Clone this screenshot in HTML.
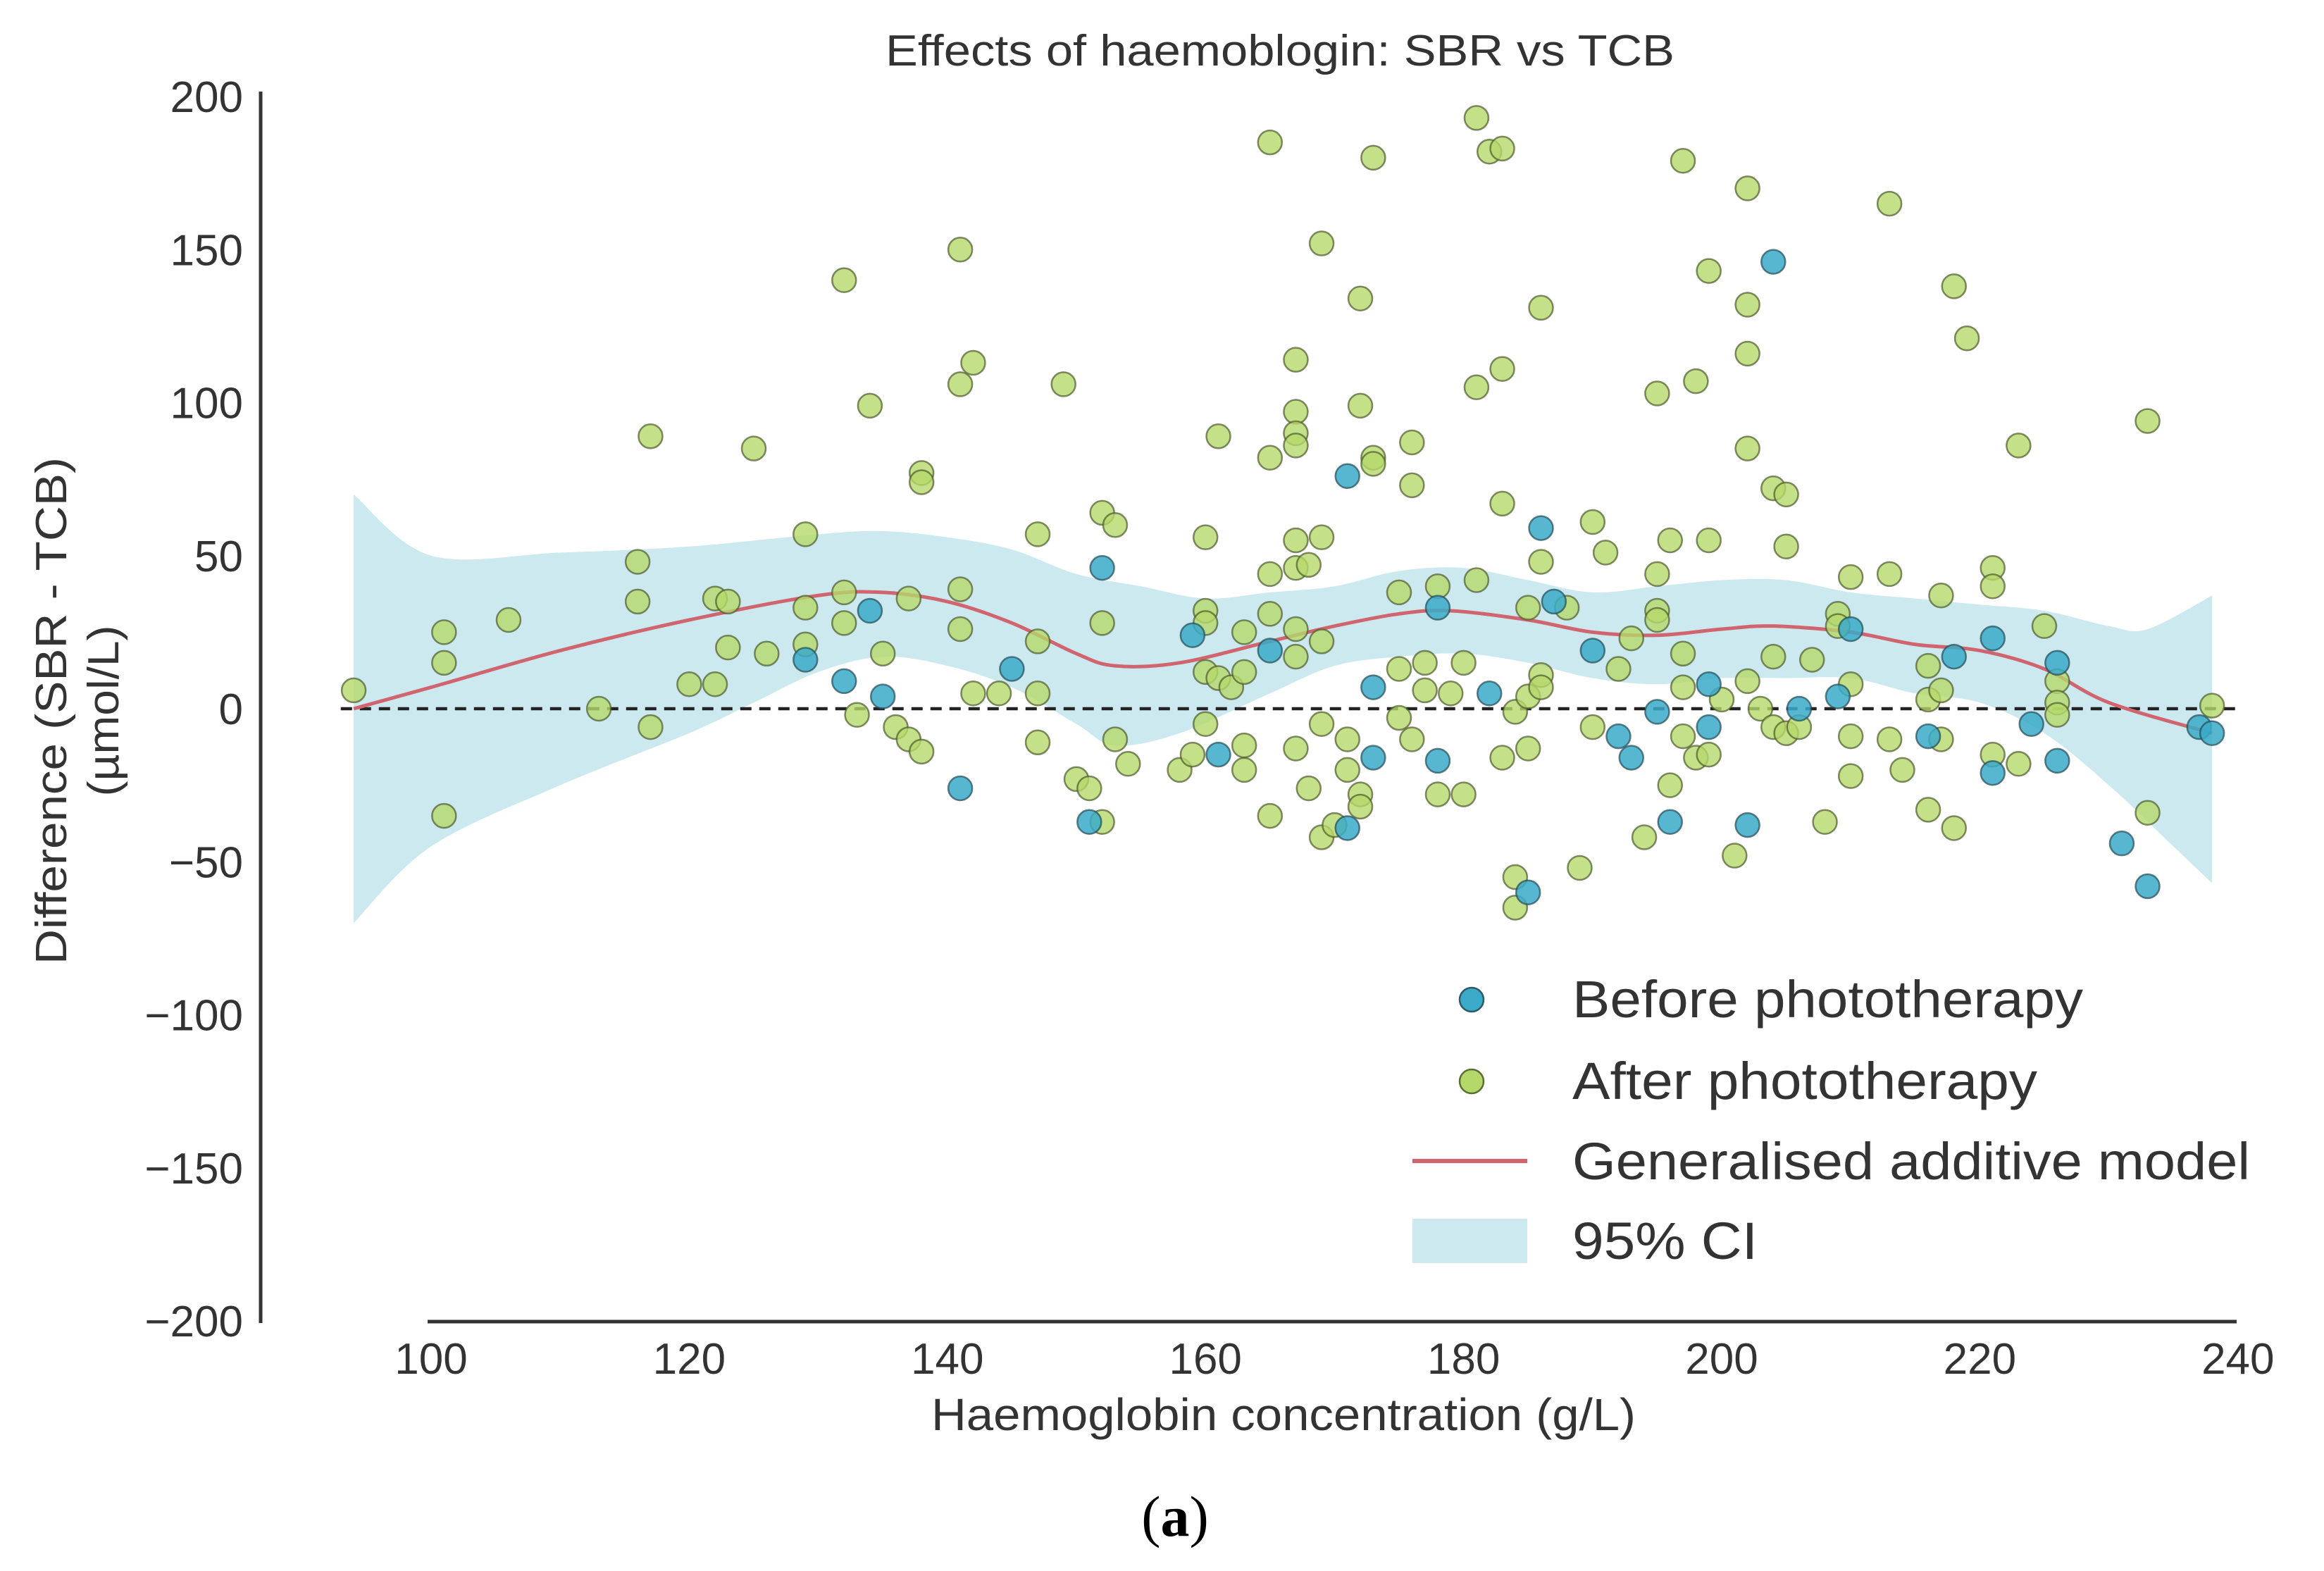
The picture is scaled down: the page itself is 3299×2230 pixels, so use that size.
<!DOCTYPE html>
<html><head><meta charset="utf-8"><style>html,body{margin:0;padding:0;background:#fff}svg{display:block}text{font-family:"Liberation Sans",Arial,sans-serif;fill:#333}</style></head>
<body>
<svg id="chart" width="3299" height="2230" viewBox="0 0 3299 2230" xmlns="http://www.w3.org/2000/svg">
<g id="ci"></g>
<g id="zero"></g>
<g id="gam"></g>
<g id="pts"></g>
<g id="axes"></g>
<text x="1817" y="93" font-size="62" text-anchor="middle" textLength="1120" lengthAdjust="spacingAndGlyphs">Effects of haemoblogin: SBR vs TCB</text>
<text x="1822" y="2030" font-size="64" text-anchor="middle" textLength="1000" lengthAdjust="spacingAndGlyphs">Haemoglobin concentration (g/L)</text>
<text transform="translate(94,1009) rotate(-90)" font-size="62" text-anchor="middle" textLength="720" lengthAdjust="spacingAndGlyphs">Difference (SBR - TCB)</text>
<text transform="translate(168,1009) rotate(-90)" font-size="62" text-anchor="middle" textLength="243" lengthAdjust="spacingAndGlyphs">(µmol/L)</text>
<text x="1668" y="2180" font-size="82" text-anchor="middle" style="font-family:'Liberation Serif',serif;fill:#000">(<tspan font-weight="bold">a</tspan>)</text>
<g>
<circle cx="2089" cy="1419" r="17" fill="#3aaac8" stroke="#2d5a66" stroke-width="2.5"/>
<text x="2232" y="1444" font-size="74" textLength="725" lengthAdjust="spacingAndGlyphs">Before phototherapy</text>
<circle cx="2089" cy="1535" r="17" fill="#b5d86a" stroke="#5d6e35" stroke-width="2.5"/>
<text x="2232" y="1560" font-size="74" textLength="660" lengthAdjust="spacingAndGlyphs">After phototherapy</text>
<line x1="2005" x2="2168" y1="1648" y2="1648" stroke="#d0656f" stroke-width="6"/>
<text x="2232" y="1674" font-size="74" textLength="962" lengthAdjust="spacingAndGlyphs">Generalised additive model</text>
<rect x="2005" y="1730" width="163" height="63" fill="#cde9f0"/>
<text x="2232" y="1787" font-size="74" textLength="263" lengthAdjust="spacingAndGlyphs">95% CI</text>
</g>
</svg>
<script>
const xTicks=[100,120,140,160,180,200,220,240];
const yTicks=[200,150,100,50,0,-50,-100,-150,-200];
const beforeX=[129,132,134,135,141,145,152,151,159,161,165,171,171,173,173,178,178,182,186,185,187,190,192,193,195,196,199,199,202,204,206,209,210,216,218,221,221,224,226,226,231,233,237,238];
const beforeY=[16,9,32,4,-26,13,46,-37,24,-15,19,76,-39,7,-16,33,-17,5,59,-60,35,19,-9,-16,-1,-37,8,-6,-38,146,0,4,26,-9,17,23,-21,-5,15,-17,-44,-58,-6,-8];
const afterX=[94,101,101,101,106,113,116,116,117,117,120,122,122,123,123,125,126,129,129,129,132,132,132,133,134,135,136,137,137,138,138,138,141,141,141,141,142,142,144,147,147,147,147,149,150,151,152,152,152,153,153,154,158,159,160,160,160,160,160,161,161,162,163,163,163,163,165,165,165,165,165,167,167,167,167,167,167,167,167,167,168,168,169,169,169,169,169,170,171,171,172,172,172,172,173,173,173,175,175,175,176,176,176,177,177,178,178,179,180,180,181,181,181,182,183,183,183,183,184,184,184,185,185,185,186,186,186,186,188,189,190,190,191,192,193,194,195,195,195,195,196,196,197,197,197,197,198,198,199,199,199,200,201,202,202,202,202,202,203,204,204,204,205,205,205,206,207,208,209,209,210,210,210,210,213,213,213,214,216,216,216,217,217,217,218,218,219,221,221,221,223,223,225,226,226,226,233,233,238];
const afterY=[6,25,15,-35,29,0,48,35,89,-6,8,36,8,35,20,85,18,57,33,21,140,38,28,-2,99,18,-6,36,-10,77,74,-14,150,106,39,26,113,5,5,57,22,5,-11,106,-23,-26,64,28,-37,60,-10,-18,-20,-15,56,32,28,12,-5,89,10,7,12,25,-12,-20,82,44,31,-35,185,114,97,90,86,55,46,26,17,-13,47,-26,56,152,22,-42,-5,-38,-10,-20,134,99,-28,-32,82,80,180,38,13,-3,87,73,-10,15,6,40,-28,5,15,-28,193,105,42,182,183,111,67,-16,-1,-65,-55,4,33,-13,131,48,11,7,33,-52,61,-6,51,13,23,-42,103,44,32,29,55,-25,179,18,7,-9,107,-16,143,55,-15,3,-48,170,132,116,85,9,0,72,17,-6,70,53,-8,-6,16,-37,31,27,43,-9,-22,8,165,44,-10,-20,-33,14,3,37,-10,6,138,-39,121,46,40,-15,86,-18,27,9,2,-2,94,-34,1];
const gamX=[94,100,110,120,130,135,140,145,150,153,158,165,170,175,179,185,190,195,200,204,210,215,220,225,230,238];
const gamY=[0,7,19,29,37,38,35,28,18,14,15,22,27,31,32,29,25,24,26,27,25,21,19,13,2,-8];
const ciX=[94,100,110,120,130,135,140,145,150,155,160,165,170,175,180,185,190,195,200,205,210,215,220,225,230,233,238];
const ciUpper=[70,50,51,53,57,58,56,52,44,40,36,38,40,45,46,42,38,40,42,42,38,36,34,32,27,26,37];
const ciLowerX=[94,100,110,120,125,130,135,140,145,150,153,158,165,170,175,180,185,190,195,200,205,210,215,220,225,230,235,238];
const ciLower=[-70,-45,-25,-8,2,12,17,14,7,-5,-12,-8,5,14,17,18,15,10,8,10,10,10,5,2,-8,-25,-45,-57];

const NS='http://www.w3.org/2000/svg';
const X=v=>612+(v-100)*18.32;
const Y=v=>1006-v*4.345;
function mk(parent,tag,attrs){const e=document.createElementNS(NS,tag);for(const k in attrs)e.setAttribute(k,attrs[k]);document.getElementById(parent).appendChild(e);return e;}
function smooth(xs,ys){let d='';const p=xs.map((x,i)=>[X(x),Y(ys[i])]);d+='M'+p[0][0]+','+p[0][1];for(let i=0;i<p.length-1;i++){const p0=p[Math.max(0,i-1)],p1=p[i],p2=p[i+1],p3=p[Math.min(p.length-1,i+2)];const c1x=p1[0]+(p2[0]-p0[0])/6,c1y=p1[1]+(p2[1]-p0[1])/6,c2x=p2[0]-(p3[0]-p1[0])/6,c2y=p2[1]-(p3[1]-p1[1])/6;d+=' C'+c1x+','+c1y+' '+c2x+','+c2y+' '+p2[0]+','+p2[1];}return d;}
let up=smooth(ciX,ciUpper);
let lowRevX=ciLowerX.slice().reverse(),lowRevY=ciLower.slice().reverse();
let lo=smooth(lowRevX,lowRevY).replace(/^M/,'L');
const band=mk('ci','path',{d:up+' '+lo+' Z',fill:'#cde9f0'});


const zl=mk('zero','line',{x1:X(93),x2:X(240),y1:Y(0),y2:Y(0),stroke:'#222','stroke-width':4.5,'stroke-dasharray':'16,11'});


const gl=mk('gam','path',{d:smooth(gamX,gamY),fill:'none',stroke:'#d0656f','stroke-width':5});


afterX.forEach((x,i)=>{const c=mk('pts','circle',{cx:X(x),cy:Y(afterY[i]),r:17,fill:'#b5d86a','fill-opacity':0.8,stroke:'#4d5a2c','stroke-opacity':0.7,'stroke-width':2.5});

});
beforeX.forEach((x,i)=>{const c=mk('pts','circle',{cx:X(x),cy:Y(beforeY[i]),r:17,fill:'#3aaac8','fill-opacity':0.85,stroke:'#244a55','stroke-opacity':0.7,'stroke-width':2.5});

});
const ya=mk('axes','line',{x1:370,x2:370,y1:130,y2:Y(-200)+3,stroke:'#333','stroke-width':5});


const xa=mk('axes','line',{x1:607,x2:3175,y1:1876,y2:1876,stroke:'#333','stroke-width':5});


yTicks.forEach(v=>{const t=mk('axes','text',{x:345,y:Y(v)+22,'font-size':62,'text-anchor':'end'});t.textContent=(v<0?'\u2212'+(-v):v);

});
xTicks.forEach(v=>{const t=mk('axes','text',{x:X(v),y:1950,'font-size':62,'text-anchor':'middle'});t.textContent=v;

});
</script>
</body></html>
